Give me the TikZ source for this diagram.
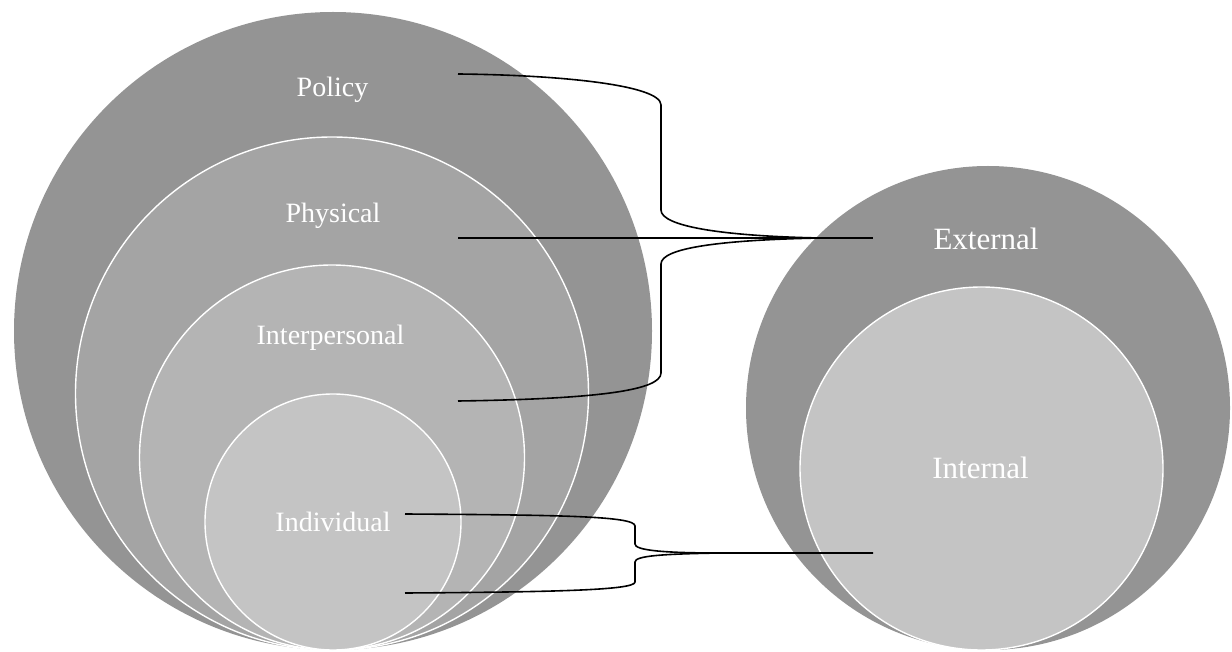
\documentclass[tikz,border=0pt]{standalone}
\usepackage{fontspec}
\setmainfont{Liberation Serif}
\definecolor{gA}{gray}{0.58}
\definecolor{gB}{gray}{0.645}
\definecolor{gC}{gray}{0.705}
\definecolor{gD}{gray}{0.77}
\begin{document}
\begin{tikzpicture}[x=1pt,y=-1pt,
  disc/.style={circle,inner sep=0pt,outer sep=0pt},
  ring/.style={disc,draw=white,line width=1.4pt},
  lbl/.style={text=white,font=\fontsize{28}{30}\selectfont,anchor=base,inner sep=0pt},
  lblR/.style={lbl,font=\fontsize{31}{33}\selectfont},
  conn/.style={draw=black,line width=1.6pt}]
\useasboundingbox (0,0) rectangle (1232,652);
% circles
\node[disc,fill=gA,minimum size=638pt] (policyc) at (333,331) {};
\node[ring,fill=gB,minimum size=513pt] (physc) at (332,393.5) {};
\node[ring,fill=gC,minimum size=385pt] (interc) at (332,457.5) {};
\node[ring,fill=gD,minimum size=256pt] (indc) at (333,522) {};
\node[disc,fill=gA,minimum size=484pt] (extc) at (988,408) {};
\node[ring,fill=gD,minimum size=363pt] (intc) at (981.5,468.5) {};
% connector ends
\coordinate (pA) at (458,74);
\coordinate (phA) at (458,238);
\coordinate (inA) at (458,401);
\coordinate (extA) at (873,238);
\coordinate (tipT) at (820,238);
\coordinate (idA) at (405,514);
\coordinate (idB) at (405,593);
\coordinate (intA) at (873,553);
\coordinate (tipB) at (720,553);
% upper brace
\draw[conn] (pA) .. controls (560,75) and (661,85) .. (661,105) -- (661,210)
  .. controls (661,226) and (720,236) .. (tipT);
\draw[conn] (tipT) .. controls (720,240) and (661,248) .. (661,264) -- (661,373)
  .. controls (661,390) and (600,399) .. (inA);
\draw[conn] (phA) -- (extA);
% lower brace
\draw[conn] (idA) .. controls (560,515) and (635,516) .. (635,526) -- (635,544)
  .. controls (635,550) and (660,553) .. (tipB) -- (intA);
\draw[conn] (tipB) .. controls (660,554) and (635,556) .. (635,562) -- (635,582)
  .. controls (635,590) and (560,592) .. (idB);
% labels
\node[lbl] (policy) at (332.5,97) {Policy};
\node[lbl] (physical) at (333,223) {Physical};
\node[lbl] (interp) at (330.5,344.5) {Interpersonal};
\node[lbl] (indiv) at (333,531) {Individual};
\node[lblR] (ext) at (986,250) {External};
\node[lblR] (int) at (980.5,478) {Internal};
\end{tikzpicture}
\end{document}
